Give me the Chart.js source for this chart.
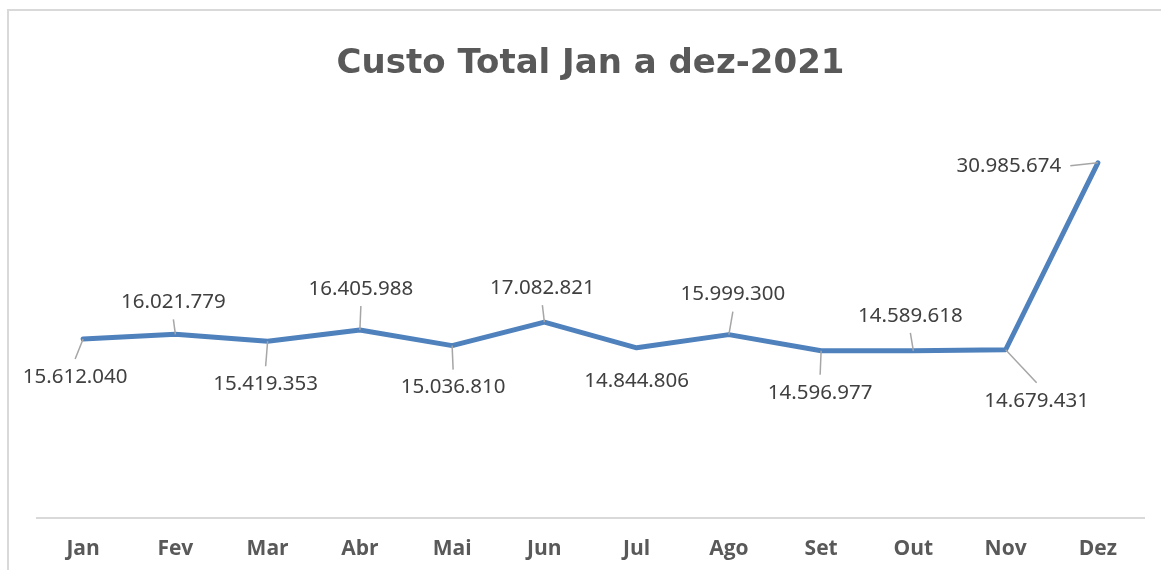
<!DOCTYPE html>
<html lang="pt-BR">
<head>
<meta charset="utf-8">
<title>Custo Total Jan a dez-2021</title>
<script src="https://cdn.jsdelivr.net/npm/chart.js@4"></script>
<style>
    html, body { margin: 0; padding: 0; background: #ffffff; }
    #moldura {
        position: absolute; left: 7px; top: 9px; width: 1154px; height: 561px;
        border-left: 2px solid #d9d9d9; border-top: 2px solid #d9d9d9;
        box-sizing: border-box;
    }
    #line-chart-custo { position: absolute; left: 0; top: 0; }
</style>
</head>
<body>
<div id="moldura"></div>
<canvas id="line-chart-custo" width="1161" height="570"></canvas>
<script>
// dados
const meses = ['Jan', 'Fev', 'Mar', 'Abr', 'Mai', 'Jun', 'Jul', 'Ago', 'Set', 'Out', 'Nov', 'Dez'];
const custoTotal = [15612040, 16021779, 15419353, 16405988, 15036810, 17082821,
                    14844806, 15999300, 14596977, 14589618, 14679431, 30985674];

// onde fica cada rótulo em relação ao ponto (dx, dy) e se tem linha de chamada
const posRotulos = [[-8, 38], [-2, -32], [-2, 43], [1, -41], [1, 42], [-2, -34],
                    [0, 33], [4, -40], [-1, 42], [-3, -35], [31, 51], [-89, 3]];
const temLinha = [true, true, true, true, true, true, false, true, true, true, true, true];

function formatar(v) {
    return String(v).replace(/\B(?=(\d{3})+(?!\d))/g, '.');
}

// desenha os rótulos de dados com linhas de chamada (estilo Excel)
const rotulosPlugin = {
    id: 'rotulos',
    afterDatasetsDraw(chart) {
        const c = chart.ctx;
        const meta = chart.getDatasetMeta(0);
        c.save();
        c.font = '20.5px "Noto Sans", "Open Sans", sans-serif';
        c.textAlign = 'center';
        c.textBaseline = 'middle';
        meta.data.forEach((pt, i) => {
            const texto = formatar(custoTotal[i]);
            const [dx, dy] = posRotulos[i];
            const lx = pt.x + dx, ly = pt.y + dy;
            if (temLinha[i]) {
                const w = c.measureText(texto).width / 2 + 9;
                let ex, ey;
                if (Math.abs(dx) > Math.abs(dy)) {
                    ex = dx < 0 ? lx + w : lx - w;
                    ey = ly;
                } else {
                    ex = lx;
                    ey = dy < 0 ? ly + 17 : ly - 18;
                }
                c.strokeStyle = '#a6a6a6';
                c.lineWidth = 1.5;
                c.beginPath();
                c.moveTo(pt.x, pt.y);
                c.lineTo(ex, ey);
                c.stroke();
            }
            c.fillStyle = '#404040';
            c.fillText(texto, lx, ly);
        });
        c.restore();
    }
};

document.addEventListener('DOMContentLoaded', function() {
    const ctx = document.getElementById('line-chart-custo').getContext('2d');

    new Chart(ctx, {
        type: 'line',
        data: {
            labels: meses,
            datasets: [{
                label: 'Custo Total',
                data: custoTotal,
                borderColor: '#4f81bd',
                backgroundColor: '#4f81bd',
                borderWidth: 5,
                borderCapStyle: 'round',
                borderJoinStyle: 'round',
                pointRadius: 0,
                tension: 0,
                fill: false
            }]
        },
        plugins: [rotulosPlugin],
        options: {
            responsive: false,
            animation: false,
            devicePixelRatio: 1,
            layout: { padding: { top: 0, left: 37, right: 17, bottom: 0 } },
            plugins: {
                legend: { display: false },
                tooltip: { enabled: false },
                title: {
                    display: true,
                    text: 'Custo Total Jan a dez-2021',
                    color: '#595959',
                    font: { family: '"DejaVu Sans", sans-serif', size: 34, weight: 'bold', lineHeight: 1.2 },
                    padding: { top: 44, bottom: 32 }
                }
            },
            scales: {
                x: {
                    offset: true,
                    grid: { display: false, drawTicks: false },
                    border: { display: true, color: '#d9d9d9', width: 2 },
                    ticks: {
                        color: '#595959',
                        padding: 18,
                        font: { family: '"Open Sans", sans-serif', size: 21, weight: 'bold' }
                    },
                    afterFit: function(scale) { scale.height = 52; }
                },
                y: {
                    display: false,
                    min: 0,
                    max: 35000000
                }
            }
        }
    });
});
</script>
</body>
</html>
